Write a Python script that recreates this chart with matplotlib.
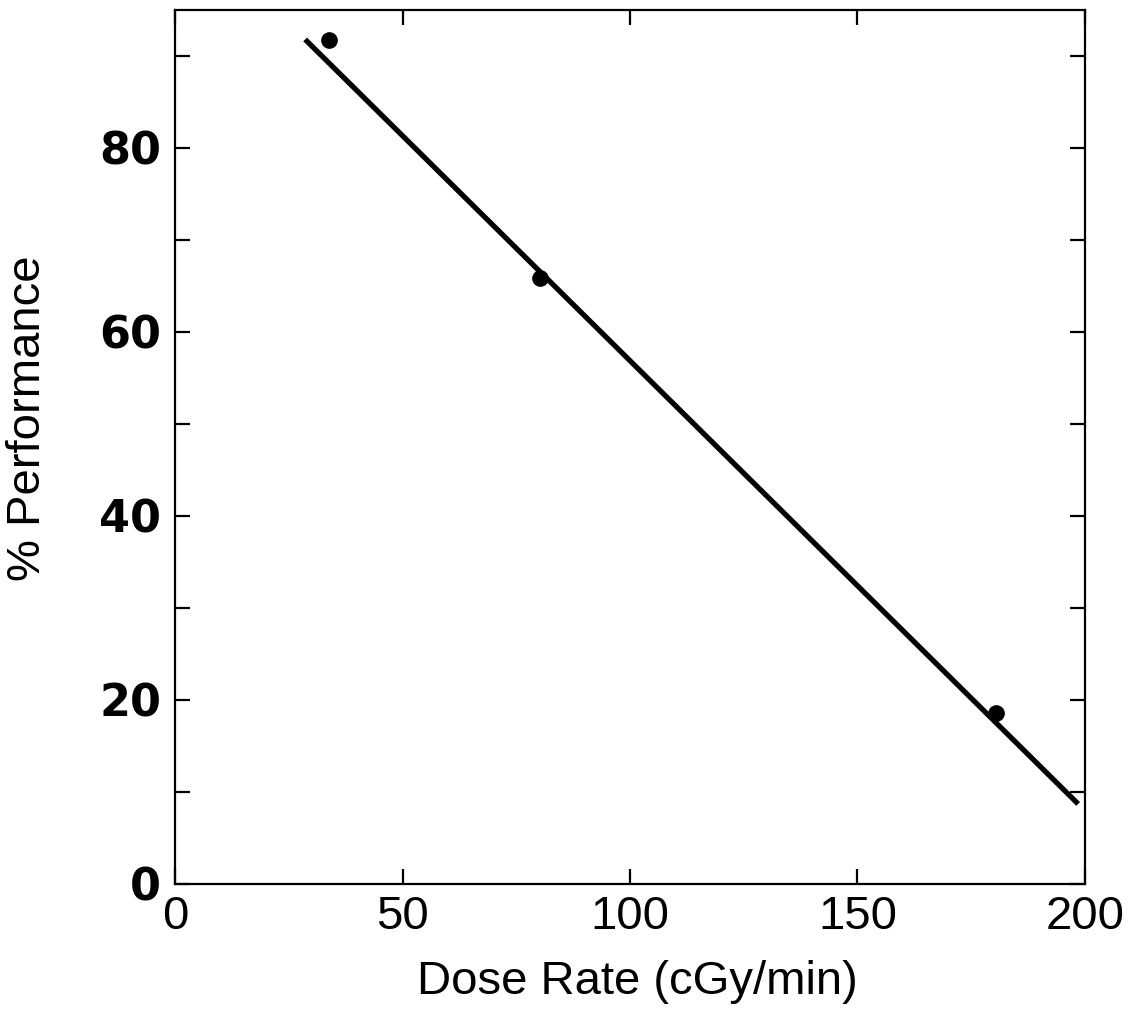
import matplotlib
matplotlib.use("Agg")
import matplotlib.pyplot as plt
from matplotlib.ticker import MultipleLocator

# measured points and fitted line
dose_rate = [33.8, 80.2, 180.4]
performance = [91.7, 65.9, 18.6]
fit_x = [28.6, 198.5]
fit_y = [91.8, 8.7]


def plotDoseRate():
    plt.rcParams['font.family'] = ['Liberation Sans', 'DejaVu Sans']
    fig = plt.figure(figsize=(11.38, 10.09), dpi=100)
    ax = fig.add_axes([0.1538, 0.1239, 0.7996, 0.8662])

    ax.plot(fit_x, fit_y, color='black', lw=3.8, solid_capstyle='butt')
    ax.plot(dose_rate, performance, 'o', color='black', ms=11)

    ax.set_xlim(0, 200)
    ax.set_ylim(0, 95)
    ax.xaxis.set_major_locator(MultipleLocator(50))
    ax.yaxis.set_major_locator(MultipleLocator(20))
    ax.yaxis.set_minor_locator(MultipleLocator(10))
    ax.tick_params(which='both', direction='in', top=True, right=True,
                   length=11, width=1.6)
    ax.tick_params(axis='x', labelsize=34, pad=8)
    ax.tick_params(axis='y', labelsize=32, pad=10)
    for lab in ax.get_yticklabels():
        lab.set_fontfamily(['DejaVu Sans'])
        lab.set_fontweight('bold')
    for s in ax.spines.values():
        s.set_linewidth(1.6)

    ax.set_xlabel('Dose Rate (cGy/min)', fontsize=34)
    ax.set_ylabel('% Performance', fontsize=34)
    ax.xaxis.set_label_coords(0.508, -0.087)
    ax.yaxis.set_label_coords(-0.137, 0.533)

    fig.savefig('out.png', dpi=100)


if __name__ == "__main__":
    plotDoseRate()
